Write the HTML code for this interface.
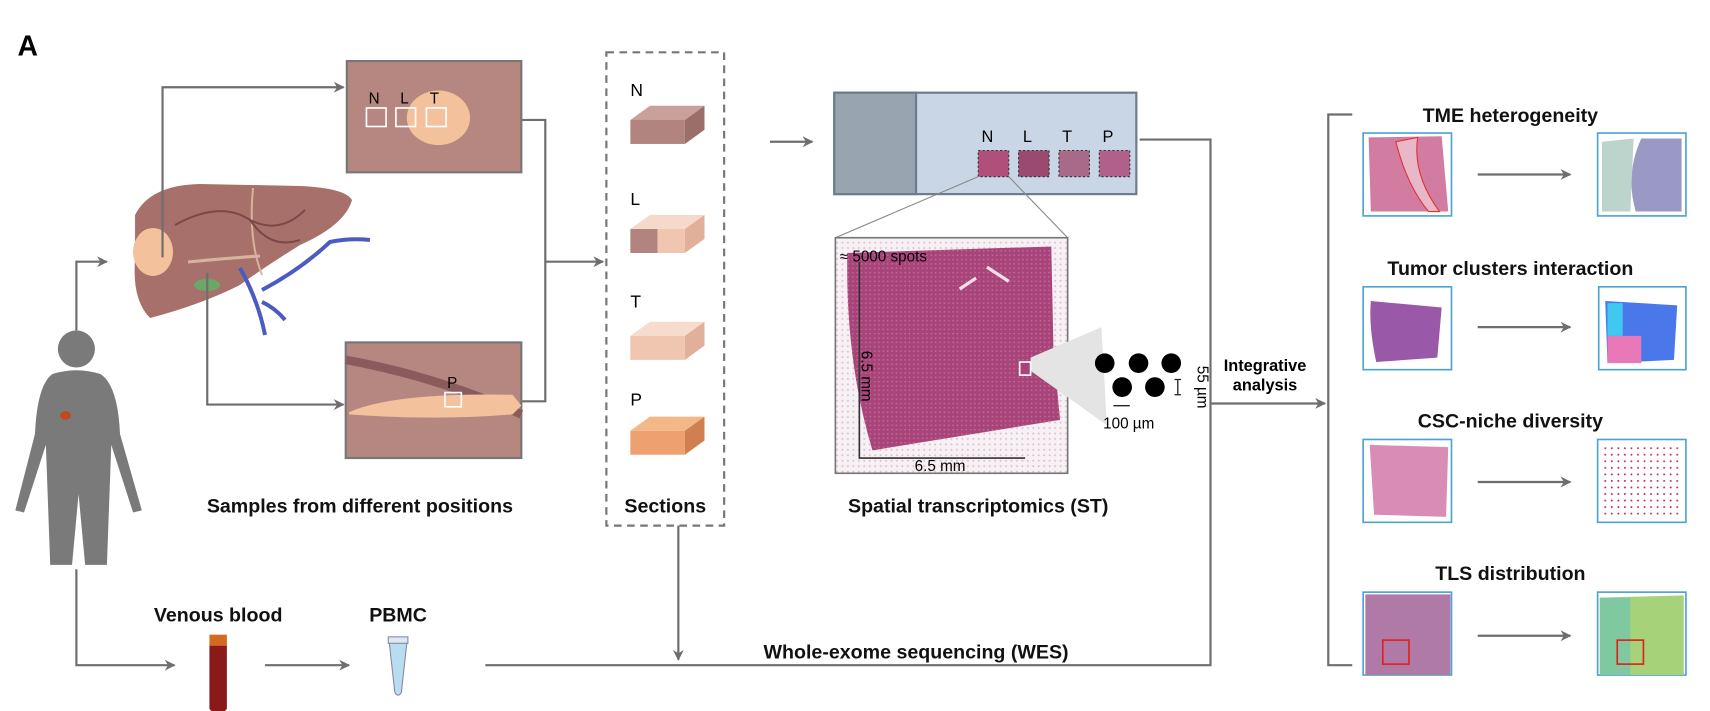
<!DOCTYPE html>
<html><head><meta charset="utf-8">
<style>
html,body{margin:0;padding:0;background:#fff;}
svg{display:block;font-family:"Liberation Sans",Arial,sans-serif;}
.b{font-weight:bold;font-size:18px;fill:#111;}
.ln{stroke:#6e6e6e;stroke-width:2;fill:none;}
</style></head><body>
<svg width="1710" height="711" viewBox="0 0 1568 652">
<defs>
<marker id="ar" markerWidth="10" markerHeight="10" refX="9" refY="5" orient="auto" markerUnits="userSpaceOnUse"><path d="M0,0 L10,5 L0,10 L3,5z" fill="#6e6e6e"/></marker>
<pattern id="dots" width="4" height="4" patternUnits="userSpaceOnUse"><rect width="4" height="4" fill="#a8447a"/><circle cx="2" cy="2" r="0.8" fill="#bf6c98"/></pattern>
<pattern id="gdots" width="5" height="5" patternUnits="userSpaceOnUse"><rect width="5" height="5" fill="#f7f0f4"/><circle cx="2.5" cy="2.5" r="0.9" fill="#d8c0cc"/></pattern>
<pattern id="red" width="6" height="6" patternUnits="userSpaceOnUse"><rect width="6" height="6" fill="#fff"/><circle cx="2" cy="3" r="0.9" fill="#c02050"/></pattern>
</defs>
<text x="16" y="51" font-size="26" font-weight="bold">A</text>

<!-- liver (true coords scaled) -->
<g transform="scale(0.9169)">
<path d="M135,215 Q150,185 200,184 L300,186 Q345,188 352,200 Q345,225 300,245 Q260,270 240,285 Q200,305 150,318 Q132,300 135,260z" fill="#a8706a"/>
<path d="M253,188 Q248,240 262,275" stroke="#d6b49c" stroke-width="2" fill="none"/>
<ellipse cx="153" cy="252" rx="20" ry="24" fill="#f3c19c"/>
<path d="M175,225 Q220,200 250,220 Q280,235 305,210 M250,220 Q270,250 300,240" stroke="#7a4848" stroke-width="2" fill="none"/>
<path d="M188,262 Q230,258 260,256" stroke="#d6b49c" stroke-width="3" fill="none"/>
<ellipse cx="207" cy="285" rx="13" ry="6" fill="#6aa86a"/>
<path d="M240,268 Q258,300 265,335 M262,290 Q300,270 330,242 Q350,238 370,240 M262,302 Q275,308 285,320" stroke="#4b5bc0" stroke-width="4" fill="none"/>
</g>

<!-- human -->
<g fill="#7a7a7a">
<circle cx="70" cy="320" r="17"/>
<path d="M48,343 Q70,336 92,343 Q108,353 110,398 L130,468 L122,470 L102,408 L98,518 L78,518 L72,453 L66,518 L46,518 L42,408 L22,470 L14,468 L32,398 Q34,353 48,343z"/>
<ellipse cx="60" cy="381" rx="5" ry="4" fill="#c04a20"/>
</g>

<!-- lines -->
<g>
<path class="ln" d="M70,303 V240 H98" marker-end="url(#ar)"/>
<path class="ln" d="M149,236 V80 H315" marker-end="url(#ar)"/>
<path class="ln" d="M190,250 V371 H315" marker-end="url(#ar)"/>
<path class="ln" d="M478,110 H500 V368 H478 M500,240 H553" marker-end="url(#ar)"/>
<path class="ln" d="M706,130 H745" marker-end="url(#ar)"/>
<path class="ln" d="M1045,128 H1110 V610 H445"/>
<path class="ln" d="M1110,370 H1215" marker-end="url(#ar)"/>
<path class="ln" d="M1240,105 H1218 V610 H1240"/>
<path class="ln" d="M622,482 V605" marker-end="url(#ar)"/>
<path class="ln" d="M70,522 V610 H160" marker-end="url(#ar)"/>
<path class="ln" d="M243,610 H320" marker-end="url(#ar)"/>
</g>

<!-- sample boxes -->
<g>
<rect x="318" y="56" width="160" height="102" fill="#b68680" stroke="#777" stroke-width="2"/>
<ellipse cx="402" cy="108" rx="29" ry="25" fill="#f3c19c"/>
<rect x="336" y="99" width="18" height="17" fill="none" stroke="#fff" stroke-width="1.5"/>
<rect x="363" y="99" width="18" height="17" fill="none" stroke="#fff" stroke-width="1.5"/>
<rect x="391" y="99" width="18" height="17" fill="none" stroke="#fff" stroke-width="1.5"/>
<text x="338" y="95" font-size="14">N</text><text x="367" y="95" font-size="14">L</text><text x="394" y="95" font-size="14">T</text>
</g>
<g>
<rect x="317" y="314" width="161" height="106" fill="#b68680" stroke="#777" stroke-width="2"/>
<path d="M317,330 Q400,345 478,380" stroke="#8a5a5c" stroke-width="8" fill="none"/>
<path d="M320,378 Q360,360 470,362 L478,372 L470,380 Q400,386 320,380z" fill="#f3c19c"/>
<rect x="408" y="360" width="15" height="13" fill="none" stroke="#fff" stroke-width="1.5"/>
<text x="410" y="356" font-size="14">P</text>
</g>
<text class="b" x="330" y="470" text-anchor="middle">Samples from different positions</text>

<!-- sections -->
<g>
<rect x="556" y="48" width="108" height="434" fill="none" stroke="#777" stroke-width="2" stroke-dasharray="7,5"/>
<text x="578" y="88" font-size="16">N</text>
<path d="M578,110 L596,97 L646,97 L628,110z" fill="#c9a09a"/><rect x="578" y="110" width="50" height="22" fill="#b28480"/><path d="M628,110 L646,97 L646,119 L628,132z" fill="#9b6e6a"/>
<text x="578" y="188" font-size="16">L</text>
<path d="M578,210 L596,197 L646,197 L628,210z" fill="#f5dacb"/><rect x="578" y="210" width="25" height="22" fill="#b28480"/><rect x="603" y="210" width="25" height="22" fill="#f0c6b0"/><path d="M628,210 L646,197 L646,219 L628,232z" fill="#e0b09a"/>
<text x="578" y="282" font-size="16">T</text>
<path d="M578,308 L596,295 L646,295 L628,308z" fill="#f7dccd"/><rect x="578" y="308" width="50" height="22" fill="#f0c6b0"/><path d="M628,308 L646,295 L646,317 L628,330z" fill="#e0b09a"/>
<text x="578" y="372" font-size="16">P</text>
<path d="M578,395 L596,382 L646,382 L628,395z" fill="#f4b888"/><rect x="578" y="395" width="50" height="22" fill="#eea070"/><path d="M628,395 L646,382 L646,404 L628,417z" fill="#d08050"/>
</g>
<text class="b" x="610" y="470" text-anchor="middle">Sections</text>

<!-- slide -->
<g>
<rect x="765" y="85" width="277" height="93" fill="#c8d6e6" stroke="#6c7c8c" stroke-width="2"/>
<rect x="765" y="85" width="75" height="93" fill="#98a4b0" stroke="#6c7c8c" stroke-width="2"/>
<g font-size="15"><text x="900" y="130">N</text><text x="938" y="130">L</text><text x="974" y="130">T</text><text x="1011" y="130">P</text></g>
<rect x="897" y="138" width="28" height="24" fill="#b0507a" stroke="#333" stroke-dasharray="2,2"/>
<rect x="934" y="138" width="28" height="24" fill="#9a4a70" stroke="#333" stroke-dasharray="2,2"/>
<rect x="971" y="138" width="28" height="24" fill="#a86a88" stroke="#333" stroke-dasharray="2,2"/>
<rect x="1008" y="138" width="28" height="24" fill="#b0608a" stroke="#333" stroke-dasharray="2,2"/>
<path d="M897,162 L766,218 M925,162 L979,218" stroke="#888" stroke-width="1"/>
</g>
<g>
<rect x="766" y="218" width="213" height="216" fill="url(#gdots)" stroke="#777" stroke-width="1.5"/>
<path d="M777,232 L964,226 L966,320 L972,385 L800,413 Q775,330 777,232z" fill="url(#dots)"/>
<path d="M905,245 L925,258 M880,265 L895,255" stroke="#f2dde8" stroke-width="3"/>
<text x="770" y="240" font-size="14">≈ 5000 spots</text>
<path d="M788,240 V420 H940" stroke="#333" stroke-width="1.5" fill="none"/>
<text x="790" y="345" font-size="14" transform="rotate(90 790 345)" text-anchor="middle">6.5 mm</text>
<text x="862" y="432" font-size="14" text-anchor="middle">6.5 mm</text>
<path d="M945,328 L1010,300 L1015,390 L945,340z" fill="#e4e4e4"/>
<rect x="935" y="332" width="10" height="12" fill="#a8447a" stroke="#fff" stroke-width="1.5"/>
<g fill="#000"><circle cx="1013" cy="333" r="9"/><circle cx="1044" cy="333" r="9"/><circle cx="1074" cy="333" r="9"/><circle cx="1029" cy="355" r="9"/><circle cx="1059" cy="355" r="9"/></g>
<path d="M1080,348 V362 M1077,348 H1083 M1077,362 H1083 M1021,372 H1036" stroke="#222" stroke-width="1.2"/>
<text x="1035" y="393" font-size="14" text-anchor="middle">100 µm</text>
<text x="1098" y="355" font-size="14" transform="rotate(90 1098 355)" text-anchor="middle">55 µm</text>
</g>
<text class="b" x="897" y="470" text-anchor="middle">Spatial transcriptomics (ST)</text>
<text x="1160" y="340" font-size="15" font-weight="bold" text-anchor="middle">Integrative</text>
<text x="1160" y="358" font-size="15" font-weight="bold" text-anchor="middle">analysis</text>

<!-- right panels -->
<g>
<text class="b" x="1385" y="112" text-anchor="middle">TME heterogeneity</text>
<rect x="1250" y="122" width="81" height="76" fill="#fff" stroke="#4aa3d0" stroke-width="1.5"/>
<path d="M1255,126 L1322,125 L1328,194 L1257,194z" fill="#d27ca2"/>
<path d="M1280,130 Q1290,170 1310,194 L1320,194 Q1295,160 1300,126z" fill="#e8b8c8" stroke="#e03030" stroke-width="1"/>
<rect x="1465" y="122" width="81" height="76" fill="#fff" stroke="#4aa3d0" stroke-width="1.5"/>
<path d="M1505,127 L1542,127 L1542,194 L1500,194 Q1490,160 1505,127z" fill="#9a98c4"/><path d="M1469,130 L1498,127 L1495,194 L1469,194z" fill="#bcd4cc"/>
<path class="ln" d="M1355,160 H1440" marker-end="url(#ar)"/>

<text class="b" x="1385" y="252" text-anchor="middle">Tumor clusters interaction</text>
<rect x="1250" y="263" width="81" height="76" fill="#fff" stroke="#4aa3d0" stroke-width="1.5"/>
<path d="M1257,276 L1322,282 L1318,328 L1262,332 Q1255,300 1257,276z" fill="#9a58a8"/>
<rect x="1466" y="263" width="80" height="76" fill="#fff" stroke="#4aa3d0" stroke-width="1.5"/>
<path d="M1472,276 L1538,280 L1535,330 L1474,333z" fill="#4a78ea"/><path d="M1474,308 L1505,308 L1505,333 L1474,333z" fill="#e878b8"/><path d="M1474,278 L1488,278 L1488,308 L1474,308z" fill="#40c8f0"/>
<path class="ln" d="M1355,300 H1440" marker-end="url(#ar)"/>

<text class="b" x="1385" y="392" text-anchor="middle">CSC-niche diversity</text>
<rect x="1250" y="403" width="81" height="76" fill="#fff" stroke="#4aa3d0" stroke-width="1.5"/>
<path d="M1256,408 L1328,410 L1326,474 L1260,472z" fill="#d88cb6"/>
<rect x="1465" y="403" width="81" height="76" fill="#fff" stroke="#4aa3d0" stroke-width="1.5"/>
<path d="M1470,410 L1540,410 L1540,474 L1470,474z" fill="url(#red)"/>
<path class="ln" d="M1355,442 H1440" marker-end="url(#ar)"/>

<text class="b" x="1385" y="532" text-anchor="middle">TLS distribution</text>
<rect x="1250" y="543" width="81" height="76" fill="#fff" stroke="#4aa3d0" stroke-width="1.5"/>
<path d="M1252,545 L1330,545 L1330,619 L1252,619z" fill="#b07aa6"/>
<rect x="1268" y="587" width="24" height="22" fill="none" stroke="#e02020" stroke-width="1.5"/>
<rect x="1465" y="543" width="81" height="76" fill="#fff" stroke="#4aa3d0" stroke-width="1.5"/>
<path d="M1467,548 L1544,546 L1544,619 L1467,619z" fill="#a6d27a"/>
<path d="M1467,548 L1495,548 L1495,619 L1467,619z" fill="#80c8a0"/>
<rect x="1483" y="587" width="24" height="22" fill="none" stroke="#e02020" stroke-width="1.5"/>
<path class="ln" d="M1355,583 H1440" marker-end="url(#ar)"/>
</g>

<!-- bottom -->
<text class="b" x="200" y="570" text-anchor="middle">Venous blood</text>
<g>
<rect x="192" y="582" width="16" height="10" fill="#d46a20"/>
<path d="M192,592 H208 V650 Q200,660 192,650z" fill="#8a1a1a"/>
</g>
<text class="b" x="365" y="570" text-anchor="middle">PBMC</text>
<g>
<rect x="356" y="584" width="18" height="6" fill="#dde8f0" stroke="#88a" stroke-width="1"/>
<path d="M357,590 H373 L368,635 Q365,640 362,635z" fill="#b8dcf0" stroke="#88a" stroke-width="1"/>
</g>
<text class="b" x="840" y="604" text-anchor="middle">Whole-exome sequencing (WES)</text>
</svg>
</body></html>
